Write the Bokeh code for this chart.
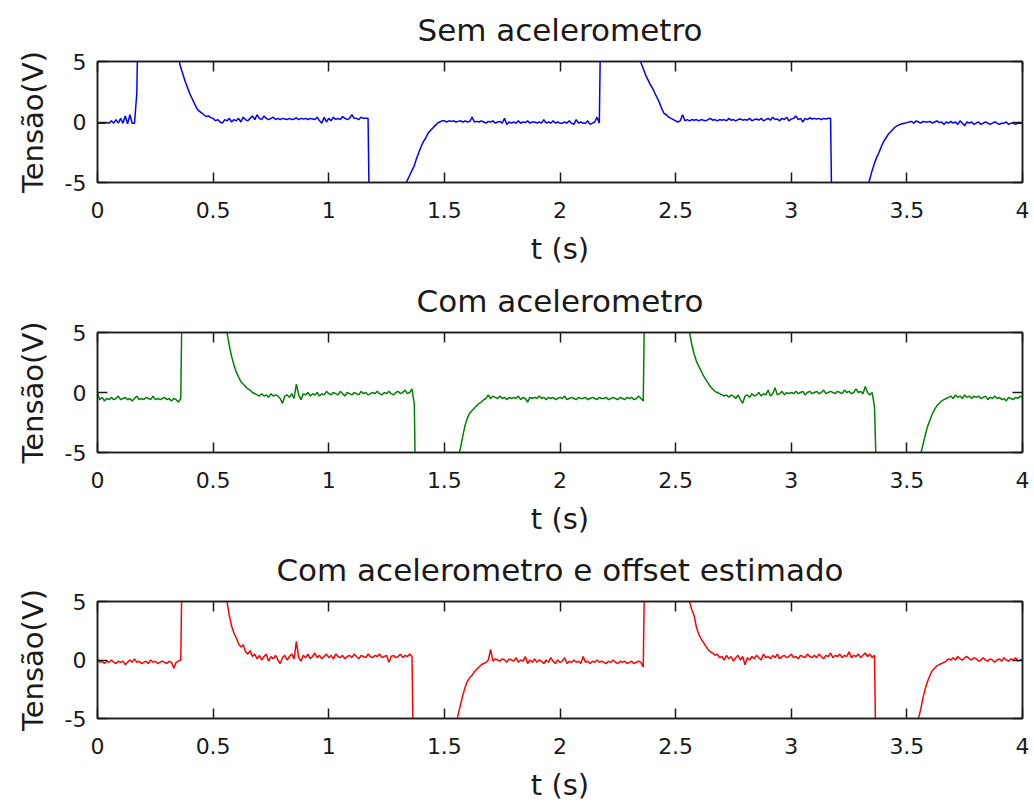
from bokeh.plotting import figure
from bokeh.layouts import column
from bokeh.models import Range1d, LinearAxis, FixedTicker
from bokeh.embed import file_html
from bokeh.resources import INLINE

# ---------------- data ----------------
titles = ["Sem acelerometro", "Com acelerometro", "Com acelerometro e offset estimado"]
x_label = "t (s)"
y_label = "Tensão(V)"
x_ticks = [0, 0.5, 1, 1.5, 2, 2.5, 3, 3.5, 4]
x_tick_labels = ["0", "0.5", "1", "1.5", "2", "2.5", "3", "3.5", "4"]
y_ticks = [-5, 0, 5]
y_tick_labels = ["-5", "0", "5"]
x_limits = [0, 4]
y_limits = [-5, 5]
dt = 0.01  # sampling interval of the recorded signals (s)

# "Sem acelerometro" (blue), one row = 0.1 s
v_sem = [
    -0.1, -0.1, -0.1, -0.1, -0.05, -0.1, 0.1, -0.1, 0.2, -0.1,      # 0.0
    0.3, -0.1, 0.5, -0.15, 0.6, -0.1, -0.1, 2.4, 14, 16,           # 0.1
    17, 17, 16, 15, 14, 13, 12, 11, 10, 9,                         # 0.2
    8.2, 7.4, 6.6, 5.9, 5.5, 5.3, 4.5, 3.9, 3.3, 2.8,              # 0.3
    2.3, 1.9, 1.5, 1.1, 0.9, 0.75, 0.6, 0.45, 0.5, 0.35,           # 0.4
    0.3, 0.1, 0.2, 0.0, -0.1, 0.2, 0.1, 0.3, 0.0, 0.2,             # 0.5
    0.1, 0.3, 0.0, 0.4, 0.2, 0.1, 0.3, 0.5, 0.2, 0.6,              # 0.6
    0.3, 0.2, 0.5, 0.3, 0.2, 0.3, 0.4, 0.2, 0.3, 0.2,              # 0.7
    0.3, 0.25, 0.2, 0.3, 0.2, 0.25, 0.35, 0.2, 0.3, 0.25,          # 0.8
    0.3, 0.2, 0.3, 0.25, 0.2, 0.4, 0.1, -0.1, 0.4, 0.0,            # 0.9
    0.3, 0.1, 0.4, 0.2, 0.3, 0.2, 0.45, 0.3, 0.2, 0.3,             # 1.0
    0.6, 0.3, 0.3, 0.2, 0.4, 0.3, 0.3, 0.3, -14, -16,              # 1.1
    -17, -17, -16, -15, -14, -13, -12, -11, -10, -9,               # 1.2
    -8, -7, -6.2, -5.3, -4.8, -4.4, -4.0, -3.6, -3.0, -2.5,        # 1.3
    -2.0, -1.6, -1.3, -0.9, -0.7, -0.5, -0.3, -0.1, 0.0, 0.1,      # 1.4
    0.1, 0.0, 0.1, 0.05, 0.1, 0.0, 0.05, 0.1, 0.0, 0.1,            # 1.5
    0.0, 0.05, 0.4, 0.0, 0.05, 0.0, 0.1, 0.0, -0.1, 0.05,          # 1.6
    0.0, 0.1, -0.1, 0.0, 0.05, -0.1, 0.3, -0.2, 0.0, -0.1,         # 1.7
    0.0, -0.1, 0.1, -0.1, 0.0, -0.05, 0.1, -0.1, 0.0, 0.0,         # 1.8
    -0.1, 0.0, -0.1, 0.2, -0.1, 0.0, -0.1, 0.1, -0.1, 0.0,         # 1.9
    -0.1, -0.1, 0.0, -0.1, 0.1, -0.1, -0.2, 0.2, -0.1, 0.0,        # 2.0
    -0.1, -0.1, 0.1, -0.2, -0.1, 0.0, 0.4, -0.1, 14, 16,           # 2.1
    17, 17, 16, 15, 14, 13, 12, 11, 10, 9,                         # 2.2
    8.2, 7.4, 6.6, 5.9, 5.3, 4.9, 4.4, 3.9, 3.5, 3.1,              # 2.3
    2.8, 2.4, 2.0, 1.6, 1.1, 0.7, 0.6, 0.4, 0.3, 0.2,              # 2.4
    0.1, 0.0, 0.1, 0.6, 0.1, 0.2, 0.1, 0.2, 0.15, 0.2,             # 2.5
    0.1, 0.2, 0.15, 0.1, 0.2, 0.3, 0.15, 0.2, 0.1, 0.2,            # 2.6
    0.15, 0.2, 0.1, 0.3, 0.15, 0.2, 0.1, 0.2, 0.25, 0.15,          # 2.7
    0.2, 0.15, 0.3, 0.1, 0.2, 0.25, 0.15, 0.3, 0.1, 0.2,           # 2.8
    0.3, 0.15, 0.4, 0.2, 0.25, 0.1, 0.3, 0.2, 0.4, 0.1,            # 2.9
    0.25, 0.3, 0.5, 0.2, 0.3, 0.0, 0.3, 0.2, 0.35, 0.25,           # 3.0
    0.3, 0.25, 0.3, 0.2, 0.3, 0.25, 0.3, 0.3, -14, -16,            # 3.1
    -17, -17, -16, -15, -14, -13, -12, -11, -10, -9,               # 3.2
    -8, -7, -6.2, -5.4, -4.7, -4.0, -3.4, -2.9, -2.5, -2.0,        # 3.3
    -1.6, -1.3, -1.0, -0.8, -0.6, -0.4, -0.3, -0.2, -0.15, -0.1,   # 3.4
    -0.05, 0.0, 0.05, -0.1, 0.1, 0.0, -0.1, 0.05, 0.0, 0.0,        # 3.5
    0.05, -0.1, 0.0, 0.1, -0.05, 0.0, -0.2, 0.0, -0.1, 0.05,       # 3.6
    -0.1, 0.0, -0.2, 0.1, -0.1, -0.3, 0.0, -0.1, 0.0, -0.2,        # 3.7
    -0.1, 0.0, -0.2, -0.1, 0.0, -0.1, -0.2, -0.1, 0.0, -0.1,       # 3.8
    -0.2, -0.1, -0.1, 0.0, -0.2, -0.1, -0.1, -0.2, -0.1, -0.1,     # 3.9
    -0.1,                                                          # 4.0
]

# "Com acelerometro" (green)
v_com = [
    -0.1, -0.6, -0.4, -0.7, -0.5, -0.6, -0.4, -0.6, -0.5, -0.3,    # 0.0
    -0.6, -0.5, -0.4, -0.6, -0.5, -0.7, -0.5, -0.3, -0.6, -0.5,    # 0.1
    -0.6, -0.4, -0.5, -0.6, -0.3, -0.6, -0.5, -0.6, -0.5, -0.4,    # 0.2
    -0.6, -0.5, -0.7, -0.5, -0.6, -0.8, -0.5, 14, 16, 17,          # 0.3
    17, 16, 15, 14, 13, 12, 11, 10, 9.5, 9,                        # 0.4
    8.4, 7.8, 7.2, 6.6, 6.0, 5.5, 5.0, 3.9, 3.0, 2.3,              # 0.5
    1.7, 1.3, 0.9, 0.7, 0.5, 0.3, 0.2, 0.0, -0.1, -0.2,            # 0.6
    -0.3, -0.1, -0.3, -0.2, -0.4, -0.1, -0.3, -0.2, -0.3, -0.5,    # 0.7
    -0.9, -0.3, -0.2, -0.4, -0.1, -0.5, 0.7, -0.2, -0.6, -0.1,     # 0.8
    -0.2, 0.0, -0.3, -0.1, -0.2, 0.0, -0.3, -0.1, -0.2, 0.1,       # 0.9
    -0.1, -0.2, 0.0, -0.1, -0.2, 0.1, -0.1, -0.3, 0.0, -0.1,       # 1.0
    -0.2, 0.0, -0.1, -0.2, 0.1, -0.1, 0.0, -0.2, -0.1, 0.0,        # 1.1
    -0.1, 0.1, -0.1, -0.2, 0.0, -0.1, 0.1, -0.1, -0.2, 0.0,        # 1.2
    0.1, -0.1, 0.0, 0.2, -0.1, 0.0, 0.3, -1.0, -14, -16,           # 1.3
    -17, -17, -16, -15, -14, -13, -12, -11, -10, -9.5,             # 1.4
    -9, -8.4, -7.8, -7.2, -6.6, -6.0, -5.3, -4.6, -3.6, -2.7,      # 1.5
    -2.1, -1.7, -1.5, -1.3, -1.1, -0.9, -0.8, -0.6, -0.5, -0.2,    # 1.6
    -0.5, -0.3, -0.4, -0.5, -0.3, -0.5, -0.4, -0.6, -0.4, -0.5,    # 1.7
    -0.4, -0.5, -0.3, -0.6, -0.4, -0.5, -0.8, -0.4, -0.5, -0.4,    # 1.8
    -0.5, -0.3, -0.5, -0.4, -0.6, -0.4, -0.5, -0.4, -0.6, -0.5,    # 1.9
    -0.4, -0.5, -0.3, -0.6, -0.5, -0.4, -0.5, -0.6, -0.4, -0.5,    # 2.0
    -0.5, -0.4, -0.6, -0.5, -0.4, -0.5, -0.6, -0.4, -0.5, -0.5,    # 2.1
    -0.4, -0.6, -0.5, -0.4, -0.5, -0.6, -0.4, -0.5, -0.6, -0.4,    # 2.2
    -0.5, -0.4, -0.6, -0.5, -0.3, -0.5, -0.7, 14, 16, 17,          # 2.3
    17, 16, 15, 14, 13, 12, 11, 10, 9.5, 9,                        # 2.4
    8.4, 7.8, 7.2, 6.6, 6.0, 5.5, 5.0, 4.0, 3.2, 2.6,              # 2.5
    2.2, 1.8, 1.4, 1.1, 0.8, 0.5, 0.3, 0.1, 0.0, -0.1,             # 2.6
    -0.2, -0.3, -0.2, -0.4, -0.2, -0.3, -0.5, -0.2, -0.6, -0.9,    # 2.7
    -0.3, -0.2, -0.4, -0.1, -0.3, -0.2, 0.0, -0.3, -0.1, -0.2,     # 2.8
    0.2, -0.3, -0.1, 0.4, -0.2, -0.1, 0.1, -0.2, 0.0, -0.1,        # 2.9
    0.0, -0.1, 0.1, -0.1, 0.0, 0.1, -0.2, 0.0, 0.1, -0.1,          # 3.0
    0.0, 0.1, -0.1, 0.0, 0.2, -0.1, 0.0, 0.1, 0.0, -0.1,           # 3.1
    0.1, 0.0, -0.1, 0.2, 0.0, 0.1, -0.1, 0.0, 0.3, 0.0,            # 3.2
    0.1, -0.1, 0.5, 0.0, -0.2, 0.0, -1.2, -8, -15, -17,            # 3.3
    -17, -16, -15, -14, -13, -12, -11, -10, -9.5, -9,              # 3.4
    -8.4, -7.8, -7.2, -6.6, -6.2, -5.8, -5.1, -4.3, -3.5, -2.8,    # 3.5
    -2.3, -1.8, -1.4, -1.1, -0.9, -0.7, -0.6, -0.5, -0.4, -0.3,    # 3.6
    -0.5, -0.2, -0.4, -0.3, -0.5, -0.2, -0.4, -0.3, -0.5, -0.3,    # 3.7
    -0.4, -0.3, -0.5, -0.4, -0.3, -0.6, -0.4, -0.5, -0.3, -0.5,    # 3.8
    -0.4, -0.6, -0.5, -0.7, -0.4, -0.5, -0.6, -0.4, -0.5, -0.3,    # 3.9
    -0.4,                                                          # 4.0
]

# "Com acelerometro e offset estimado" (red)
v_off = [
    0.1, -0.2, -0.1, -0.3, -0.1, -0.2, 0.0, -0.2, -0.3, -0.1,      # 0.0
    -0.2, -0.1, -0.4, -0.2, 0.0, -0.2, 0.1, -0.2, -0.1, -0.3,      # 0.1
    -0.2, -0.1, -0.3, 0.0, -0.2, -0.1, -0.3, -0.2, -0.1, -0.2,     # 0.2
    -0.3, -0.1, -0.2, -0.7, -0.2, -0.1, 0.0, 14, 16, 17,           # 0.3
    17, 16, 15, 14, 13, 12, 11, 10, 9.5, 9,                        # 0.4
    8.4, 7.8, 7.2, 6.6, 6.0, 5.5, 5.0, 3.8, 2.9, 2.3,              # 0.5
    1.9, 1.4, 1.1, 1.3, 0.7, 0.5, 0.8, 0.3, 0.5, 0.1,              # 0.6
    0.4, 0.0, 0.3, 0.5, -0.1, 0.3, 0.1, 0.4, 0.0, -0.3,            # 0.7
    0.2, 0.4, 0.0, 0.3, 0.5, 0.1, 1.6, 0.2, -0.1, 0.4,             # 0.8
    0.2, 0.5, 0.1, 0.3, 0.6, 0.2, 0.4, 0.1, 0.3, 0.5,              # 0.9
    0.2, 0.4, 0.1, 0.5, 0.3, 0.2, 0.4, 0.1, 0.3, 0.4,              # 1.0
    0.2, 0.5, 0.3, 0.1, 0.4, 0.3, 0.2, 0.5, 0.3, 0.2,              # 1.1
    0.4, 0.3, 0.5, 0.2, 0.3, 0.4, -0.2, 0.3, 0.4, 0.2,             # 1.2
    0.3, 0.5, 0.2, 0.4, 0.3, 0.5, 0.3, -14, -16, -17,              # 1.3
    -17, -16, -15, -14, -13, -12, -11, -10, -9.5, -9,              # 1.4
    -8.4, -7.8, -7.2, -6.6, -6.1, -5.6, -4.6, -3.8, -3.0, -2.3,    # 1.5
    -1.8, -1.5, -1.3, -1.0, -0.8, -0.6, -0.4, -0.3, -0.2, 0.0,     # 1.6
    0.9, -0.1, 0.1, 0.0, -0.1, 0.1, 0.0, -0.2, 0.1, 0.0,           # 1.7
    -0.1, 0.2, -0.2, 0.0, -0.1, 0.3, -0.3, 0.0, -0.2, 0.1,         # 1.8
    -0.2, 0.0, -0.1, -0.3, 0.0, -0.2, 0.2, -0.1, -0.3, 0.0,        # 1.9
    -0.2, -0.1, 0.2, -0.3, -0.1, -0.2, 0.0, -0.2, -0.1, -0.3,      # 2.0
    0.3, -0.2, -0.1, -0.3, -0.1, -0.2, 0.0, -0.2, -0.1, -0.2,      # 2.1
    -0.3, -0.1, -0.2, 0.0, -0.2, -0.3, -0.1, -0.2, -0.1, -0.3,     # 2.2
    -0.2, -0.1, -0.3, -0.2, -0.1, -0.2, -0.6, 14, 16, 17,          # 2.3
    17, 16, 15, 14, 13, 12, 11, 10, 9.5, 9,                        # 2.4
    8.4, 7.8, 7.2, 6.6, 6.0, 5.5, 5.0, 4.3, 3.8, 2.8,              # 2.5
    2.2, 1.8, 1.5, 1.2, 0.9, 0.7, 0.6, 0.4, 0.5, 0.2,              # 2.6
    0.3, 0.0, 0.4, 0.1, 0.3, -0.1, 0.2, 0.4, 0.0, 0.3,             # 2.7
    -0.4, 0.2, 0.0, 0.3, 0.1, 0.4, 0.2, 0.0, 0.5, 0.2,             # 2.8
    0.3, 0.1, 0.4, 0.2, 0.5, 0.1, 0.3, 0.4, 0.2, 0.3,              # 2.9
    0.5, 0.2, 0.3, 0.1, 0.4, 0.3, 0.2, 0.5, 0.3, 0.2,              # 3.0
    0.4, 0.2, 0.5, 0.3, 0.1, 0.4, 0.3, 0.6, 0.2, 0.4,              # 3.1
    0.3, 0.5, 0.2, 0.4, 0.3, 0.7, 0.2, 0.4, 0.3, 0.5,              # 3.2
    0.2, 0.4, 0.6, 0.3, 0.5, 0.2, 0.4, -14, -16, -17,              # 3.3
    -17, -16, -15, -14, -13, -12, -11, -10, -9.5, -9,              # 3.4
    -8.4, -7.8, -7.2, -6.6, -6.0, -5.0, -4.2, -3.2, -2.4, -1.8,    # 3.5
    -1.3, -0.9, -0.7, -0.5, -0.4, -0.3, -0.2, -0.1, 0.1, 0.0,      # 3.6
    0.2, 0.0, 0.3, 0.1, 0.0, 0.2, 0.3, 0.1, 0.0, 0.2,              # 3.7
    0.1, -0.1, 0.0, 0.2, 0.0, -0.1, 0.1, 0.0, -0.2, 0.0,           # 3.8
    0.1, -0.1, 0.2, 0.0, -0.1, 0.1, 0.0, 0.2, -0.1, 0.0,           # 3.9
    0.0,                                                           # 4.0
]

series = [v_sem, v_com, v_off]
colors = ["#0000ff", "#008000", "#ff0000"]

FONT = "DejaVu Sans"
INK = "#1a1a1a"
TOP, BOTTOM = 66, 92


def make_panel(title, values, color, frame_h, margin_top):
    p = figure(width=1034, height=TOP + frame_h + BOTTOM,
               output_backend="svg", toolbar_location=None,
               x_range=Range1d(*x_limits), y_range=Range1d(*y_limits),
               min_border_left=97, min_border_right=12,
               min_border_top=TOP, min_border_bottom=BOTTOM,
               background_fill_color="white", border_fill_color=None,
               margin=(margin_top, 0, 0, 0))
    p.grid.visible = False
    p.outline_line_color = INK
    p.outline_line_width = 1.5

    p.title.text = title
    p.title.align = "center"
    p.title.text_font = FONT
    p.title.text_font_size = "31px"
    p.title.text_font_style = "normal"
    p.title.text_color = INK
    p.title.standoff = 28

    xa = p.xaxis[0]
    xa.ticker = FixedTicker(ticks=x_ticks)
    xa.major_label_overrides = dict(zip(x_ticks, x_tick_labels))
    xa.axis_label = x_label
    ya = p.yaxis[0]
    ya.ticker = FixedTicker(ticks=y_ticks)
    ya.major_label_overrides = dict(zip(y_ticks, y_tick_labels))
    ya.axis_label = y_label

    for ax in (xa, ya):
        ax.major_label_text_font = FONT
        ax.major_label_text_font_size = "22px"
        ax.major_label_text_color = INK
        ax.axis_label_text_font = FONT
        ax.axis_label_text_font_size = "29px"
        ax.axis_label_text_font_style = "normal"
        ax.axis_label_text_color = INK
        ax.major_tick_in = 10
        ax.major_tick_out = 0
        ax.minor_tick_line_color = None
        ax.axis_line_color = INK
        ax.axis_line_width = 1.5
        ax.major_tick_line_color = INK
        ax.major_tick_line_width = 1.5
    xa.major_label_standoff = 19
    xa.axis_label_standoff = 11
    ya.major_label_standoff = 11
    ya.axis_label_standoff = 12

    # mirrored ticks on the top and right edges (box on), without labels
    top_ax = LinearAxis(ticker=FixedTicker(ticks=x_ticks))
    right_ax = LinearAxis(ticker=FixedTicker(ticks=y_ticks))
    for ax in (top_ax, right_ax):
        ax.major_label_text_color = None
        ax.major_label_text_font_size = "10px"
        ax.major_label_standoff = 0
        ax.major_tick_in = 10
        ax.major_tick_out = 0
        ax.minor_tick_line_color = None
        ax.axis_line_color = INK
        ax.axis_line_width = 1.5
        ax.major_tick_line_color = INK
        ax.major_tick_line_width = 1.5
    p.add_layout(top_ax, "above")
    p.add_layout(right_ax, "right")

    t = [i * dt for i in range(len(values))]
    p.line(t, values, line_color=color, line_width=1.5)
    return p


panels = [
    make_panel(titles[0], series[0], colors[0], 121, -5),
    make_panel(titles[1], series[1], colors[1], 120, -8),
    make_panel(titles[2], series[2], colors[2], 117, -9),
]
layout = column(*panels, spacing=0)
open("out.html", "w").write(file_html(layout, INLINE))
